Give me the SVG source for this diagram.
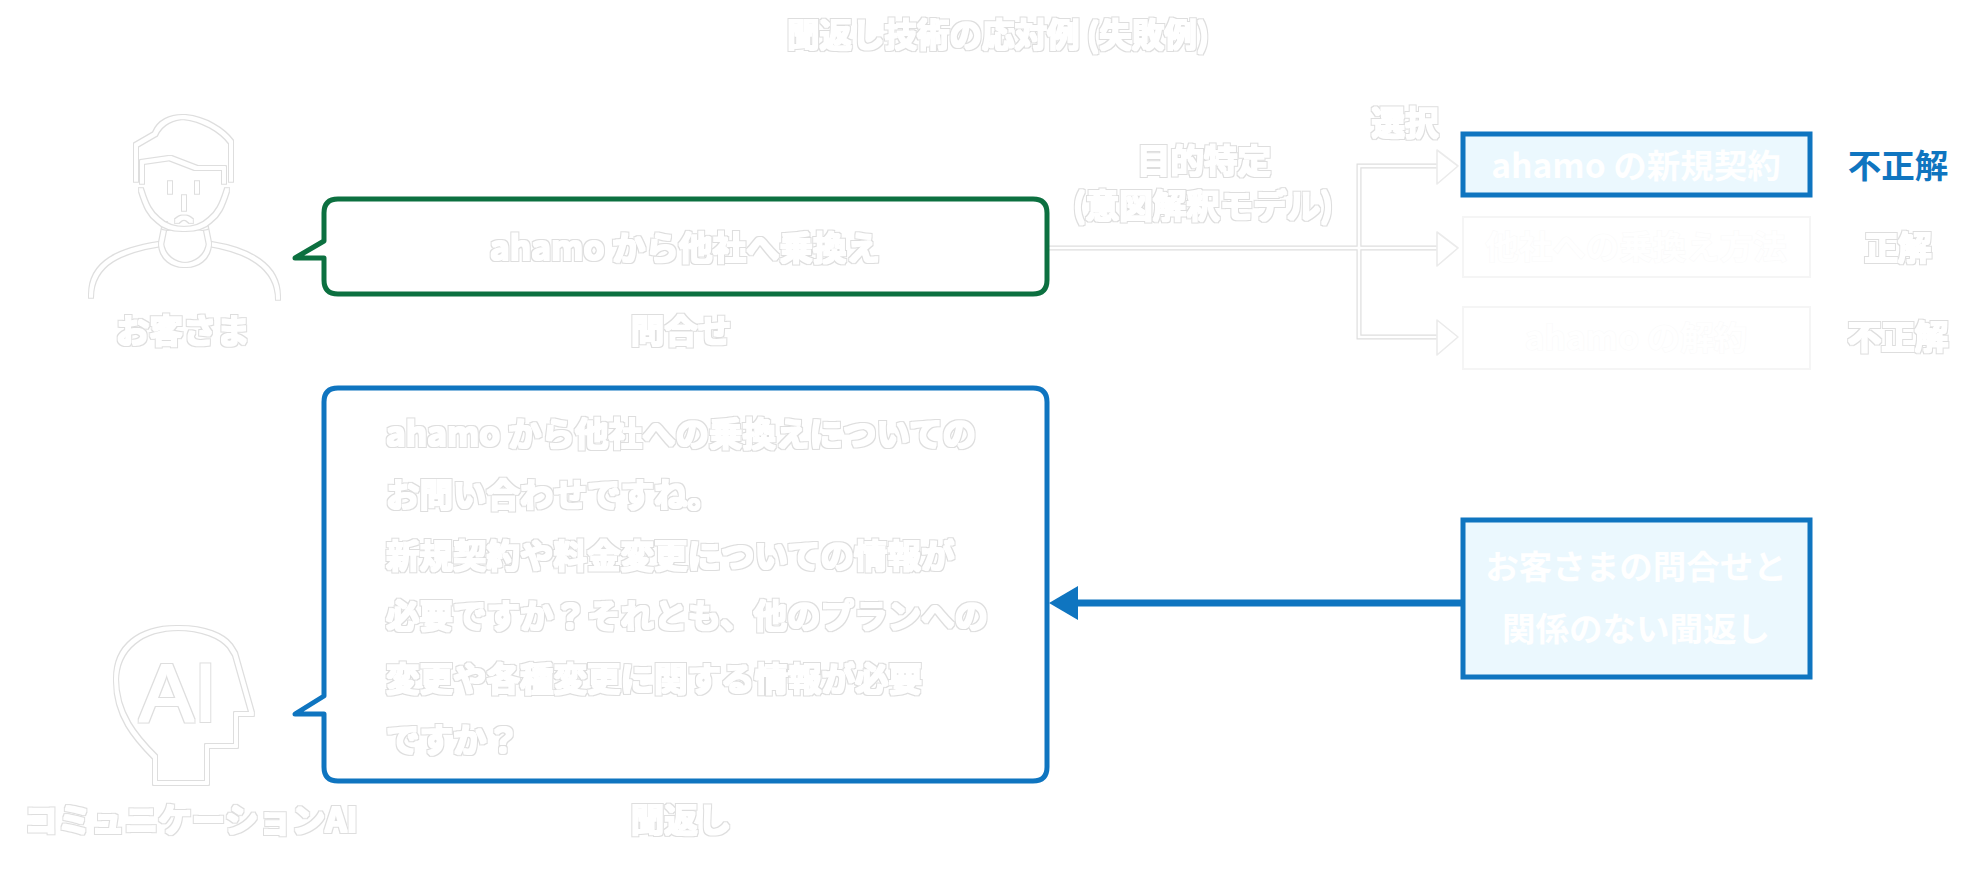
<svg xmlns="http://www.w3.org/2000/svg" width="1971" height="870" viewBox="0 0 1971 870">
<defs>
<filter id="halo" x="-10%" y="-30%" width="120%" height="160%" color-interpolation-filters="sRGB">
  <feMorphology in="SourceAlpha" operator="dilate" radius="1.7" result="o"/>
  <feFlood flood-color="#dedede"/>
  <feComposite in2="o" operator="in" result="ring"/>
  <feMorphology in="SourceAlpha" operator="dilate" radius="1.15" result="i"/>
  <feFlood flood-color="#ffffff"/>
  <feComposite in2="i" operator="in" result="core"/>
  <feMerge><feMergeNode in="ring"/><feMergeNode in="core"/></feMerge>
</filter>
</defs>
<style>
text{font-family:"Noto Sans CJK JP","Noto Sans",sans-serif;font-size:33.5px;font-weight:700}
.t{fill:#fff;filter:url(#halo);text-anchor:middle}
.l{fill:#fff;filter:url(#halo)}
.w{fill:#fff;text-anchor:middle}
.f{fill:#fff;stroke:#fafafa;stroke-width:1px;paint-order:stroke;text-anchor:middle}
.b{fill:#0f75c0;text-anchor:middle}
.box{fill:#ebf8fe;stroke:#0f75c0;stroke-width:5}
.ghost{fill:#fff;stroke:#f5f5f5;stroke-width:2}
.ic{fill:none;stroke:#fff;stroke-width:2;stroke-linejoin:round;stroke-linecap:round;filter:url(#halo)}
.wo{fill:none;stroke:#dedede;stroke-width:5}
.wi{fill:none;stroke:#fff;stroke-width:2.6}
.ah{fill:#fff;stroke:#ebebeb;stroke-width:1.6;stroke-linejoin:round}
</style>
<rect width="1971" height="870" fill="#fff"/>
<text id="title" class="t" style="font-size:32.5px" x="998" y="47">聞返し技術の応対例 (失敗例)</text>

<g id="connectors">
  <path class="wo" d="M1049 248H1440M1437 166H1359V337H1437"/>
  <path class="wi" d="M1049 248H1440M1437 166H1359V337H1437"/>
  <path class="ah" d="M1437 150L1458 166L1437 184Z"/>
  <path class="ah" d="M1437 232L1458 248L1437 266Z"/>
  <path class="ah" d="M1437 320L1458 337L1437 355Z"/>
  <path d="M1462 603H1076" stroke="#0f75c0" stroke-width="7" fill="none"/>
  <path d="M1049 603L1078 586V620Z" fill="#0f75c0"/>
</g>

<g id="customer">
  <path class="ic" d="M91 296C91 262 122 250 160 244M210 244C248 250 278 266 278 298"/>
  <path class="ic" d="M165 224L161 244C164 272 206 272 209 244L205 224"/>
  <path class="ic" d="M164 227Q185 232 206 227"/>
  <path class="ic" d="M136 180V145L155 134C160 122 172 117 184 117C204 119 222 130 231 142V180"/>
  <path class="ic" d="M142 182V162L170 158L196 168H224V182"/>
  <path class="ic" d="M141 190C146 206 150 214 158 220C170 232 198 232 210 220C218 214 222 206 227 190"/>
  <path class="ic" d="M170 183v9M197 183v9M184 197v12M177 221q7 -7 14 0"/>
  <text class="t" x="183" y="343">お客さま</text>
</g>

<g id="inquiry">
  <path d="M338 199H1033Q1047 199 1047 213V280Q1047 294 1033 294H338Q324 294 324 280V258H295L324 241V213Q324 199 338 199Z" fill="#fff" stroke="#0c7040" stroke-width="5" stroke-linejoin="round"/>
  <text class="t" x="685" y="260">ahamo から他社へ乗換え</text>
  <text class="t" x="681" y="343">問合せ</text>
</g>

<g id="purpose">
  <text class="t" x="1204" y="173">目的特定</text>
  <text class="t" x="1203" y="218">(意図解釈モデル)</text>
  <text class="t" x="1405" y="135">選択</text>
</g>

<g id="option1">
  <rect class="box" x="1463" y="134" width="347" height="61"/>
  <text class="w" x="1636" y="178">ahamo の新規契約</text>
  <text class="b" x="1898" y="178">不正解</text>
</g>
<g id="option2">
  <rect class="ghost" x="1463" y="217" width="347" height="60"/>
  <text class="f" x="1636" y="259">他社への乗換え方法</text>
  <text class="t" x="1898" y="260">正解</text>
</g>
<g id="option3">
  <rect class="ghost" x="1463" y="307" width="347" height="62"/>
  <text class="f" x="1636" y="350">ahamo の解約</text>
  <text class="t" x="1898" y="349">不正解</text>
</g>

<g id="clarify">
  <path d="M338 388H1033Q1047 388 1047 402V767Q1047 781 1033 781H338Q324 781 324 767V714H295L324 696V402Q324 388 338 388Z" fill="#fff" stroke="#0f75c0" stroke-width="5" stroke-linejoin="round"/>
  <text class="l" x="386" y="446">ahamo から他社への乗換えについての</text>
  <text class="l" x="386" y="507">お問い合わせですね。</text>
  <text class="l" x="386" y="568">新規契約や料金変更についての情報が</text>
  <text class="l" x="386" y="628">必要ですか？それとも、他のプランへの</text>
  <text class="l" x="386" y="691">変更や各種変更に関する情報が必要</text>
  <text class="l" x="386" y="752">ですか？</text>
  <text class="t" x="681" y="832">聞返し</text>
</g>

<g id="ai">
  <path class="ic" d="M155 783V757C136 738 116 715 116 680C116 647 141 628 178 628C204 628 222 636 230 646L235 654L252 714H236V746H207V783Z"/>
  <text x="178" y="721" class="t" style="font-size:82px;font-family:'Liberation Sans',sans-serif;font-weight:400">AI</text>
  <text class="t" x="191" y="832">コミュニケーションAI</text>
</g>

<g id="mismatch">
  <rect class="box" x="1463" y="520" width="347" height="157"/>
  <text class="w" x="1636" y="579">お客さまの問合せと</text>
  <text class="w" x="1636" y="641">関係のない聞返し</text>
</g>
</svg>
